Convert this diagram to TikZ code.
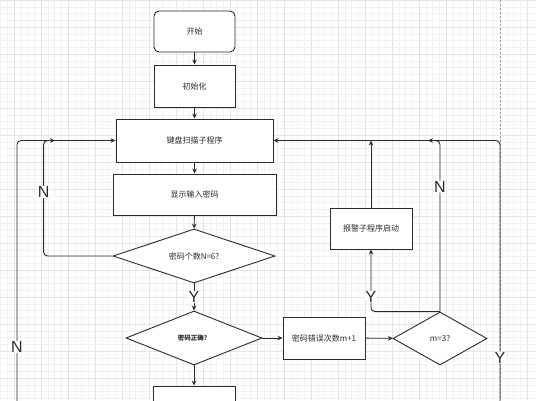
\documentclass[tikz,border=0pt]{standalone}
\usepackage{fontspec}
\setmainfont{Liberation Sans}
\newfontfamily\cjk{Noto Sans CJK SC}
\usetikzlibrary{arrows.meta,shapes.geometric}
\definecolor{lncol}{HTML}{2B2B2B}
\tikzset{
  box/.style={draw=lncol, line width=0.9pt, fill=white, rectangle, inner sep=0pt,
    font=\cjk\fontsize{8}{9}\selectfont, text=lncol},
  rbox/.style={box, rounded corners=5pt},
  dia/.style={draw=lncol, line width=0.9pt, fill=white, diamond, inner sep=0pt,
    font=\cjk\fontsize{8}{9}\selectfont, text=lncol},
  arr/.style={draw=lncol, line width=0.9pt, -{Stealth[length=5pt,width=4.5pt]}, rounded corners=4pt},
  lbl/.style={fill=white, inner sep=0.5pt, font=\fontsize{16}{16}\selectfont, text=lncol},
}
\begin{document}
\begin{tikzpicture}[x=1pt,y=-1pt]
\useasboundingbox (0,0) rectangle (536,400);
\clip (0,0) rectangle (536,400);
\fill[white] (0,0) rectangle (536,400);
% grid
\foreach \i in {0,...,80} {
  \draw[black!5, line width=0.4pt] ({-13+6.75*\i},0) -- ({-13+6.75*\i},400);
  \draw[black!5, line width=0.4pt] (0,{6.75*\i}) -- (536,{6.75*\i});
}
\foreach \i in {0,...,20} {
  \draw[black!10, line width=0.5pt] ({14+27*\i},0) -- ({14+27*\i},400);
  \draw[black!10, line width=0.5pt] (0,{27*\i}) -- (536,{27*\i});
}
\draw[black!40, line width=0.6pt, dash pattern=on 2pt off 2pt] (500,0) -- (500,400);

% nodes
\node[rbox, minimum width=81pt, minimum height=41pt] (start) at (194.5,31.5) {开始};
\node[box, minimum width=81pt, minimum height=42pt] (init) at (194.5,86) {初始化};
\node[box, minimum width=157pt, minimum height=43pt] (key) at (194.5,140.5) {键盘扫描子程序};
\node[box, minimum width=163pt, minimum height=41pt] (disp) at (194.5,194.5) {显示输入密码};
\node[dia, minimum width=162pt, minimum height=54pt, shape aspect=3] (d1) at (194,256) {密码个数N=6?};
\node[dia, minimum width=136pt, minimum height=54pt, shape aspect=2.5,
      font=\cjk\bfseries\fontsize{6.5}{7}\selectfont] (d2) at (194,338) {密码正确？};
\node[box, minimum width=82pt, minimum height=42pt] (err) at (324,338) {密码错误次数m+1};
\node[dia, minimum width=94pt, minimum height=53pt, shape aspect=1.8] (d3) at (440,338.5) {m=3?};
\node[box, minimum width=82pt, minimum height=41pt] (alarm) at (371,228.5) {报警子程序启动};
\node[box, minimum width=82pt, minimum height=42pt] (bot) at (194,407) {};

\coordinate (lb) at (17,410);
\coordinate (lend) at (55,140.5);
\coordinate (rb) at (500,410);
\coordinate (rend) at (428,140.5);

% connectors
\draw[arr] (start) -- (init);
\draw[arr] (init) -- (key);
\draw[arr] (key) -- (disp);
\draw[arr] (disp) -- (d1);
\draw[arr] (d1) -- (d2) node[lbl, pos=0.5] {Y};
\draw[arr] (d1.west) -- ++(-69,0) |- (key.west) node[lbl, pos=0.277] {N};
\draw[arr] (d2) -- (err);
\draw[arr] (err) -- (d3);
\draw[arr] (d2) -- (bot);
\draw[arr] (d3.north) |- (key.east) node[lbl, pos=0.365] {N};
\draw[arr] (d3.north) -| (alarm.south) node[lbl, pos=0.62] {Y};
\draw[arr] (alarm.north) -- (alarm.north |- key.east);
\draw[arr] (rb) |- (rend) node[lbl, pos=0.097] {Y};
\draw[arr] (lb) |- (lend) node[lbl, pos=0.117] {N};
\end{tikzpicture}
\end{document}
